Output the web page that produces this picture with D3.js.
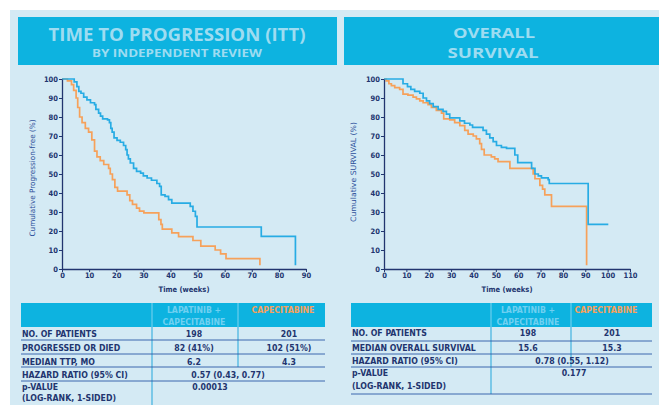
<!DOCTYPE html>
<html>
<head>
<meta charset="utf-8">
<script src="https://cdn.jsdelivr.net/npm/d3@7"></script>
<style>
  body { margin: 0; background: #fff; }
</style>
</head>
<body>
<div class="d3"></div>
<script>
// Kaplan-Meier step points: [week, percent]
const ttpLapCap = [[0,100],[4.5,98.5],[5.5,96],[6.2,93.5],[7,92.5],[8,90.5],[9.2,89],[10.5,87.5],[12,86.5],[12.5,84],
  [13.5,82],[14.2,80.5],[15,79],[16.8,78.5],[17.5,77],[18,74],[18.5,72],[19.2,69],[20.3,67.7],[21.5,66.7],[22.7,65],
  [23.5,62.8],[24,60],[24.5,58],[25.2,55.8],[26.4,53],[27.5,51.4],[29,50.5],[30,49],[31.4,47.9],[33,46.7],[35,45],
  [36,43.5],[36.6,39],[38,38.2],[39.3,36.5],[40.5,34.7],[47.3,33],[48.3,30.4],[49.2,27.7],[49.8,22.1],[73.5,17.2],[86.1,2]];
const ttpCap = [[0,100],[2,99],[3.5,97],[4.3,94],[5.2,90],[5.8,85],[6.5,80],[7.4,77],[8.6,74],[9.8,72],[11,68],[12,62],
  [12.9,59],[14.1,57],[15.4,55],[17.2,53],[17.8,50],[18.6,47],[19.5,43],[20.5,41],[24,39],[25,36],[26,34],[27.5,32],
  [28.6,30.5],[30.2,29.5],[35.7,26],[36.5,23.5],[37,21],[40.5,19],[43,17],[48.3,15],[51.2,12],[56.5,10],[58.5,8],
  [60.5,5.5],[73,2]];
const osLapCap = [[0,100],[8.5,97.5],[10.5,96],[12,94.5],[13.7,93.5],[16,92.5],[17.5,90],[19,88.5],[20.4,87],[22,85.5],
  [24.2,84],[26.4,83],[27.9,81.5],[29.4,79.5],[33.9,78],[36,76.7],[38.4,75.8],[39.6,74.5],[44.3,73],[45.8,71],[47.3,69],
  [48.8,67],[50.3,65],[52.5,64],[54.8,63.5],[58.5,60],[59.8,56],[66,53],[67.5,50],[69,49],[70.4,48],[73.4,47],[73.9,45],
  [91.3,23.5],[100.3,23.5]];
const osCap = [[0,100],[1,99],[2.2,97.5],[3.3,96.5],[4.8,95.5],[7,94.5],[8.5,92],[10.7,91.5],[13,90.5],[14.5,89.5],
  [16,88.5],[17.5,87.5],[19.7,86.5],[21.2,85],[23.4,83.5],[25.7,82],[26.7,79],[29.4,78.5],[31.6,77],[33.9,75.5],
  [36.1,73],[37.6,71],[39.9,70],[41.3,68.5],[42.8,66],[43.6,63],[44.8,60],[48,59],[49.5,58],[51,56.5],[56.3,53],
  [66.7,50],[67.5,47.5],[69.7,44],[70.9,42],[71.9,39],[74.9,33],[90.6,2]];

const pctTicks = [0,10,20,30,40,50,60,70,80,90,100];
const ttpWeekTicks = [0,10,20,30,40,50,60,70,80,90];
const osWeekTicks = [0,10,20,30,40,50,60,70,80,90,100,110];

const colHeads = ["LAPATINIB +", "CAPECITABINE"];
const ttpLabels = ["NO. OF PATIENTS", "PROGRESSED OR DIED", "MEDIAN TTP, MO", "HAZARD RATIO (95% CI)", "p-VALUE", "(LOG-RANK, 1-SIDED)"];
const ttpCol1 = ["198", "82 (41%)", "6.2"];
const ttpCol2 = ["201", "102 (51%)", "4.3"];
const ttpShared = ["0.57 (0.43, 0.77)", "0.00013"];
const osLabels = ["NO. OF PATIENTS", "MEDIAN OVERALL SURVIVAL", "HAZARD RATIO (95% CI)", "p-VALUE", "(LOG-RANK, 1-SIDED)"];
const osCol1 = ["198", "15.6"];
const osCol2 = ["201", "15.3"];
const osShared = ["0.78 (0.55, 1.12)", "0.177"];

const navy = "#22356f";
const cyan = "#0db3e0";
const bg = "#d4eaf4";
const blue = "#27ace4";
const orange = "#f6a15a";
const cond = "'DejaVu Sans Condensed', 'DejaVu Sans', sans-serif";

const svg = d3.select(".d3").append("svg")
    .attr("width", 659)
    .attr("height", 405)
    .style("display", "block");

svg.append("rect").attr("x", 10).attr("y", 10).attr("width", 649).attr("height", 395).attr("fill", bg);

// header bars
function header(x, w, lines) {
    svg.append("rect").attr("x", x).attr("y", 17).attr("width", w).attr("height", 48).attr("fill", cyan);
    lines.forEach(function (l) {
        svg.append("text")
            .attr("x", l.x).attr("y", l.y)
            .attr("text-anchor", "middle")
            .attr("textLength", l.len).attr("lengthAdjust", "spacingAndGlyphs")
            .style("font-family", "'Open Sans', sans-serif")
            .style("font-weight", 700)
            .style("font-size", l.size + "px")
            .attr("fill", "#9edcf1")
            .text(l.text);
    });
}
header(18, 319, [
    {text: "TIME TO PROGRESSION (ITT)", x: 177, y: 41, len: 257, size: 18},
    {text: "BY INDEPENDENT REVIEW", x: 177, y: 57, len: 170, size: 11}
]);
header(344, 315, [
    {text: "OVERALL", x: 494, y: 37.5, len: 82, size: 15},
    {text: "SURVIVAL", x: 493, y: 57.5, len: 91, size: 15}
]);

function kmChart(cfg) {
    const x = d3.scaleLinear().domain(cfg.xDomain).range(cfg.xRange);
    const y = d3.scaleLinear().domain([0, 100]).range([269, 79]);
    const g = svg.append("g");

    const line = d3.line()
        .x(function (d) { return x(d[0]); })
        .y(function (d) { return y(d[1]); })
        .curve(d3.curveStepAfter);

    [[cfg.cap, orange], [cfg.lapCap, blue]].forEach(function (s) {
        g.append("path")
            .attr("d", line(s[0]))
            .attr("fill", "none")
            .attr("stroke", s[1])
            .attr("stroke-width", 1.7);
    });

    const xAxis = g.append("g")
        .attr("transform", "translate(0,269)")
        .call(d3.axisBottom(x).tickValues(cfg.xTicks).tickSize(3).tickSizeOuter(0).tickPadding(1));
    const yAxis = g.append("g")
        .attr("transform", "translate(" + cfg.xRange[0] + ",0)")
        .call(d3.axisLeft(y).tickValues(pctTicks).tickSize(3).tickSizeOuter(0).tickPadding(1));
    [xAxis, yAxis].forEach(function (a) {
        a.select(".domain").attr("stroke", navy).attr("stroke-width", 1.3);
        a.selectAll(".tick line").attr("stroke", navy).attr("stroke-width", 1);
        a.selectAll(".tick text")
            .attr("fill", navy)
            .style("font-family", cond)
            .style("font-weight", 700)
            .style("font-size", "7.5px");
    });

    g.append("text")
        .attr("x", (cfg.xRange[0] + cfg.xRange[1]) / 2).attr("y", 292)
        .attr("text-anchor", "middle")
        .attr("fill", navy)
        .style("font-family", cond).style("font-weight", 700).style("font-size", "7.5px")
        .text("Time (weeks)");
    g.append("text")
        .attr("transform", "translate(" + cfg.yTitleX + "," + cfg.yTitleY + ") rotate(-90)")
        .attr("text-anchor", "middle")
        .attr("textLength", cfg.yTitleLen).attr("lengthAdjust", "spacingAndGlyphs")
        .attr("fill", "#2d4f9a")
        .style("font-family", cond).style("font-size", "7.5px")
        .text(cfg.yTitle);
}

kmChart({xDomain: [0, 90], xRange: [62, 306], xTicks: ttpWeekTicks, lapCap: ttpLapCap, cap: ttpCap,
    yTitle: "Cumulative Progression-free (%)", yTitleX: 35, yTitleY: 178, yTitleLen: 117});
kmChart({xDomain: [0, 110], xRange: [384, 630], xTicks: osWeekTicks, lapCap: osLapCap, cap: osCap,
    yTitle: "Cumulative SURVIVAL (%)", yTitleX: 356, yTitleY: 172, yTitleLen: 100});

function table(t) {
    const g = svg.append("g");
    g.append("rect").attr("x", t.x0).attr("y", 303).attr("width", t.x1 - t.x0).attr("height", 24).attr("fill", cyan);
    // header dividers
    [t.div1, t.div2].forEach(function (dx) {
        g.append("line").attr("x1", dx).attr("x2", dx).attr("y1", 303).attr("y2", 327)
            .attr("stroke", "#7fd3ef").attr("stroke-width", 1);
    });
    g.append("line").attr("x1", t.div1).attr("x2", t.div1).attr("y1", 327).attr("y2", t.div1End)
        .attr("stroke", "#23a7dc").attr("stroke-width", 1);
    g.append("line").attr("x1", t.div2).attr("x2", t.div2).attr("y1", 327).attr("y2", t.div2End)
        .attr("stroke", "#23a7dc").attr("stroke-width", 1);
    t.rules.forEach(function (ry) {
        g.append("line").attr("x1", t.x0).attr("x2", t.x1).attr("y1", ry).attr("y2", ry)
            .attr("stroke", "#2b5aa6").attr("stroke-width", 0.9);
    });

    function txt(s, x, y, anchor, color) {
        g.append("text").attr("x", x).attr("y", y).attr("text-anchor", anchor)
            .attr("fill", color || navy)
            .style("font-family", cond).style("font-weight", 700).style("font-size", "8.7px")
            .text(s);
    }
    txt(colHeads[0], t.c1, 313, "middle", "#6fd0f1");
    txt(colHeads[1], t.c1, 324.5, "middle", "#6fd0f1");
    txt(colHeads[1], t.c2 - 6, 313, "middle", orange);

    t.labels.forEach(function (s, i) { txt(s, t.x0 + 1, t.labelY[i], "start"); });
    t.col1.forEach(function (s, i) { txt(s, t.c1, t.labelY[i], "middle"); });
    t.col2.forEach(function (s, i) { txt(s, t.c2, t.labelY[i], "middle"); });
    t.shared.forEach(function (s, i) { txt(s, t.sharedX[i], t.labelY[t.col1.length + i], "middle"); });
}

table({x0: 21, x1: 325, div1: 152, div2: 238, div1End: 405, div2End: 367, c1: 194, c2: 289,
    rules: [340, 354, 367, 381],
    labels: ttpLabels, labelY: [337, 351, 365, 378, 390, 401],
    col1: ttpCol1, col2: ttpCol2, shared: ttpShared, sharedX: [228, 210]});
table({x0: 351, x1: 652, div1: 491, div2: 571, div1End: 394, div2End: 367, c1: 528, c2: 612,
    rules: [341, 354, 367, 394],
    labels: osLabels, labelY: [336, 351, 364, 376, 389],
    col1: osCol1, col2: osCol2, shared: osShared, sharedX: [572, 574]});
</script>
</body>
</html>
